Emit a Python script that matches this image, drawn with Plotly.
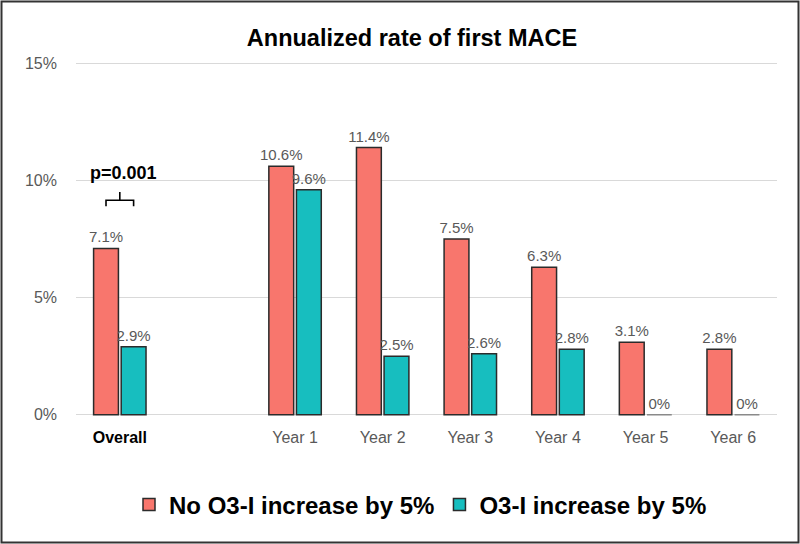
import plotly.graph_objects as go

categories = ["Overall", "Year 1", "Year 2", "Year 3", "Year 4", "Year 5", "Year 6"]
no_increase = [7.1, 10.6, 11.4, 7.5, 6.3, 3.1, 2.8]
increase = [2.9, 9.6, 2.5, 2.6, 2.8, 0, 0]
series_names = ["No O3-I increase by 5%", "O3-I increase by 5%"]
y_ticks = [0, 5, 10, 15]
y_tick_labels = ["0%", "5%", "10%", "15%"]
p_text = "p=0.001"

W, H = 800, 544
ML, MR, MT, MB = 76, 23, 62, 128
BARGAP, GROUPGAP = 0.37, 0.1
RED, TEAL = "#F8766D", "#17BEBF"
GRAY_TXT = "#595959"
FONT = "Liberation Sans, Arial, sans-serif"
PAD = 0.05  # small range padding so the 0% and 15% gridlines are drawn

# spacer category between Overall and yearly values
cat_order = [categories[0], " "] + categories[1:]


def labels(vals):
    return [f"{v:g}%" for v in vals]


def outline(vals):
    return ["#8a8a8a" if v == 0 else "#2b2b2b" for v in vals]


fig = go.Figure()
for name, vals, col in [(series_names[0], no_increase, RED), (series_names[1], increase, TEAL)]:
    fig.add_trace(go.Bar(
        x=categories, y=vals, name=name,
        marker=dict(color=col, line=dict(color=outline(vals), width=1.5)),
        text=labels(vals), textposition="outside", constraintext="none",
        textfont=dict(color=GRAY_TXT, size=15, family=FONT),
        cliponaxis=False,
    ))

ticktext = ['<span style="color:black"><b>Overall</b></span>'] + categories[1:]
ph = H - MT - MB

fig.update_layout(
    width=W, height=H,
    margin=dict(l=ML, r=MR, t=MT, b=MB, autoexpand=False),
    paper_bgcolor="white", plot_bgcolor="white",
    barmode="group", bargap=BARGAP, bargroupgap=GROUPGAP,
    font=dict(family=FONT, color=GRAY_TXT),
    title=dict(text="<b>Annualized rate of first MACE</b>", x=412 / W, xref="container",
               xanchor="center", y=1 - 38 / H, yref="container", yanchor="middle",
               font=dict(size=23.5, color="black", family=FONT)),
    xaxis=dict(type="category", categoryorder="array", categoryarray=cat_order,
               tickvals=categories, ticktext=ticktext, showgrid=False,
               showline=False, ticks="", tickfont=dict(size=16, color=GRAY_TXT),
               ticklabelstandoff=10,
               range=[-0.5, len(cat_order) - 0.5]),
    yaxis=dict(range=[-PAD, 15 + PAD], tickvals=y_ticks, ticktext=y_tick_labels, showgrid=True,
               gridcolor="#d9d9d9", gridwidth=1, zeroline=False, showline=False,
               ticks="", tickfont=dict(size=16, color=GRAY_TXT), ticklabelstandoff=18),
    legend=dict(orientation="h", x=0.5 - 6 / (W - ML - MR), xanchor="center",
                y=-(505 - (H - MB)) / ph, yanchor="middle",
                font=dict(size=24, color="black", family=FONT, weight="bold"),
                itemwidth=30, traceorder="normal"),
    showlegend=True,
)

# p-value bracket between the two Overall bars
half = (1 - BARGAP) / 4
by, down, up = 9.15, 8.9, 9.5
bracket = (f"M {-half},{down} L {-half},{by} L {half},{by} L {half},{down} "
           f"M 0,{by} L 0,{up}")
fig.add_shape(type="path", path=bracket, xref="x", yref="y",
              line=dict(color="black", width=1.6))
fig.add_annotation(x=0, y=10.3, xref="x", yref="y", text=f"<b>{p_text}</b>",
                   showarrow=False, font=dict(size=18, color="black", family=FONT),
                   xshift=4)

# outer frame of the figure
pw = W - ML - MR
fig.add_shape(type="rect", xref="paper", yref="paper",
              x0=-(ML - 1.5) / pw, x1=1 + (MR - 1.5) / pw,
              y0=-(MB - 1.5) / ph, y1=1 + (MT - 1.5) / ph,
              line=dict(color="#333333", width=2), layer="above")

fig.write_html("out.html", config={"displayModeBar": False},
               post_script="document.body.style.margin='0';document.body.style.overflow='hidden';")
